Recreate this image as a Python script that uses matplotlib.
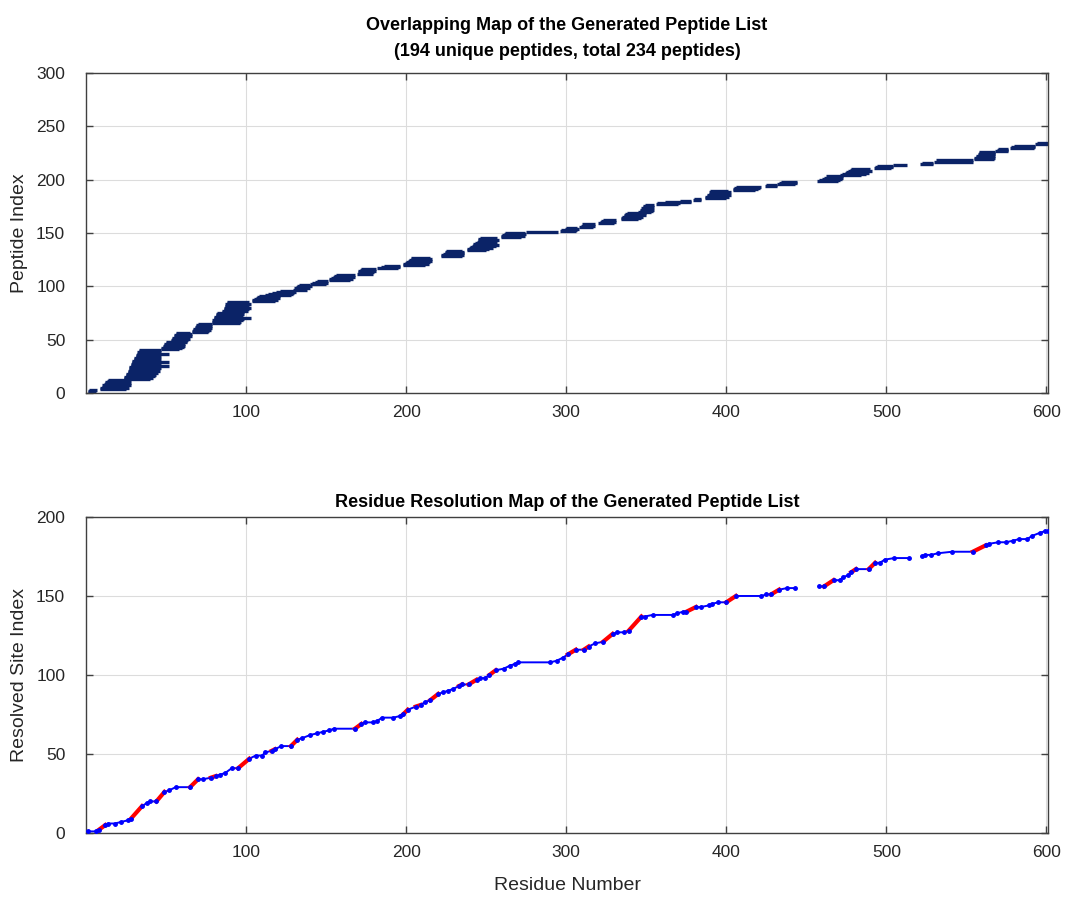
import numpy as np
import matplotlib
matplotlib.use("Agg")
import matplotlib.pyplot as plt

plt.rcParams['font.family'] = ['Liberation Sans', 'DejaVu Sans']

# peptide start / end residues (sorted by start, index = position in list)
pep_start = [1, 1, 2,
             9, 9, 10, 10, 11, 12, 12, 13, 14,
             24, 24, 24, 25, 25, 25, 26, 26, 26, 27, 27, 27, 28, 28, 28, 29, 29, 29,
             30, 30, 30, 31, 31, 31, 32, 32, 33, 33,
             47, 47, 48, 48, 49, 49, 50, 50,
             53, 53, 54, 54, 55, 55, 56, 56,
             66, 66, 67, 67, 68, 68, 69, 69, 70,
             79, 79, 79, 80, 80, 80, 81, 81, 81, 82,
             85, 85, 86, 86, 86, 87, 87, 87, 88, 88,
             104, 104, 105, 106, 107, 108,
             112, 114, 116, 119, 121,
             129, 130, 131, 132, 133,
             140, 141, 143, 144,
             152, 152, 153, 154, 155, 156,
             169, 170, 170, 171, 172,
             182, 184, 186,
             198, 198, 199, 200, 201, 202, 203, 203,
             222, 222, 223, 224, 224, 225,
             238, 238, 239, 240, 241, 242, 242, 243, 244, 245, 245, 246,
             259, 259, 260, 261, 262,
             275,
             296, 297, 299, 300,
             308, 309, 310,
             320, 321, 322, 323,
             334, 334, 335, 336, 336, 337, 338,
             345, 346, 346, 347, 348, 348, 349,
             356, 357, 362, 371,
             379, 380,
             387, 387, 388, 388, 389, 389, 390,
             404, 404, 405, 406,
             424, 425,
             432, 433, 434,
             457, 458, 460, 461, 462,
             471, 472, 474, 475, 476, 477, 478,
             492, 493, 494,
             504,
             521, 522,
             530, 531,
             555, 555, 556, 556, 557, 557, 558, 558,
             568, 569, 570,
             577, 578, 580,
             593, 594]

pep_end = [5, 6, 7,
           25, 27, 26, 28, 27, 28, 25, 27, 28,
           40, 42, 41, 43, 44, 42, 45, 44, 46, 45, 47, 46, 52, 45, 46, 47, 52, 44,
           46, 47, 45, 46, 47, 46, 52, 47, 46, 47,
           58, 60, 61, 62, 60, 62, 61, 63,
           63, 64, 65, 64, 66, 65, 66, 65,
           76, 77, 78, 77, 79, 78, 79, 78, 79,
           96, 97, 98, 99, 103, 97, 98, 97, 99, 98,
           99, 101, 100, 102, 103, 101, 102, 103, 101, 102,
           118, 120, 119, 121, 120, 121,
           128, 129, 130, 131, 130,
           138, 140, 139, 141, 140,
           150, 151, 150, 151,
           165, 167, 166, 168, 167, 168,
           179, 180, 181, 180, 181,
           195, 196, 196,
           212, 214, 213, 215, 216, 214, 216, 215,
           235, 236, 235, 236, 236, 235,
           250, 252, 254, 253, 256, 258, 255, 257, 256, 258, 254, 257,
           272, 274, 273, 275, 274,
           295,
           306, 307, 308, 307,
           317, 318, 318,
           330, 331, 330, 331,
           345, 347, 348, 346, 350, 349, 350,
           353, 354, 355, 354, 355, 353, 355,
           370, 371, 378, 378,
           384, 384,
           400, 402, 401, 403, 402, 403, 401,
           418, 420, 421, 422,
           432, 432,
           443, 444, 444,
           470, 471, 472, 473, 473,
           484, 487, 489, 486, 491, 488, 490,
           503, 504, 504,
           513,
           529, 529,
           554, 554,
           567, 568, 567, 568, 567, 568, 568, 568,
           576, 576, 576,
           592, 593, 593,
           601, 601]

# resolved site map (residue number, resolved site index); None = gap
site_res = [1, 6, 8, 12, 14, 18, 22, 26, 28, 35, 38, 40, 44, 49, 52, 56, 65, 70, 73, 78,
            81, 84, 87, 91, 95, 102, 106, 110, 112, 116, 118, 122, 128, 132, 135, 140, 144,
            148, 152, 155, 168, 172, 174, 179, 182, 185, 192, 196, 198, 201, 206, 209, 212,
            215, 220, 223, 226, 229, 233, 235, 239, 244, 246, 249, 252, 256, 261, 265, 268,
            270, 290, 294, 298, 301, 306, 311, 314, 318, 323, 329, 332, 336, 339, 347, 349,
            354, 367, 369, 373, 375, 381, 384, 389, 391, 395, 400, 406, 422, 425, 428, 433,
            438, 443, None, 458, 461, 467, 471, 473, 476, 478, 481, 489, 493, 496, 499, 505,
            514, None, 522, 524, 528, 532, 541, 554, 562, 564, 570, 575, 579, 583, 588, 591,
            596, 599, 601]
site_idx = [1, 1, 2, 5, 6, 6, 7, 8, 9, 17, 19, 20, 20, 26, 27, 29, 29, 34, 34, 35,
            36, 37, 38, 41, 41, 47, 49, 49, 51, 52, 53, 55, 55, 59, 60, 62, 63,
            64, 65, 66, 66, 69, 70, 70, 71, 73, 73, 74, 75, 78, 80, 81, 83,
            84, 88, 89, 90, 91, 93, 94, 94, 97, 98, 98, 100, 103, 104, 106, 107,
            108, 108, 109, 111, 113, 116, 116, 118, 120, 121, 126, 127, 127, 128, 137, 137,
            138, 138, 139, 140, 140, 143, 143, 144, 145, 146, 146, 150, 150, 151, 151, 154,
            155, 155, None, 156, 156, 160, 160, 162, 163, 165, 167, 167, 171, 171, 173, 174,
            174, None, 175, 176, 176, 177, 178, 178, 182, 183, 184, 184, 185, 186, 186, 188,
            190, 191, 191]

# single-residue resolved stretches (start residue, end residue)
red_from = [8, 28, 44, 65, 78, 95, 116, 128, 168, 198, 206, 215, 233, 239, 252, 301, 311,
            323, 339, 375, 400, 428, 461, 478, 489, 554]
red_to = [12, 35, 49, 70, 81, 102, 118, 132, 172, 201, 209, 220, 235, 244, 256, 306, 314,
          329, 347, 381, 406, 433, 467, 481, 493, 562]

navy = '#0b2367'
txt = '#262626'

fig = plt.figure(figsize=(10.66, 8.98), dpi=100)
ax1 = fig.add_axes([0.0807, 0.5624, 0.9024, 0.3563])
ax2 = fig.add_axes([0.0807, 0.0724, 0.9024, 0.3519])

for i in range(len(pep_start)):
    ax1.plot([pep_start[i], pep_end[i]], [i + 1, i + 1], color=navy, lw=2.4,
             solid_capstyle='butt')

x = np.array([np.nan if v is None else v for v in site_res], dtype=float)
y = np.array([np.nan if v is None else v for v in site_idx], dtype=float)
ax2.plot(x, y, '-', color='blue', lw=1.4, zorder=2)
for a, b in zip(red_from, red_to):
    i0 = site_res.index(a)
    i1 = site_res.index(b)
    ax2.plot(x[i0:i1 + 1], y[i0:i1 + 1], '-', color='red', lw=3, zorder=3)
ax2.plot(x, y, '.', color='blue', ms=5, zorder=4)

ax1.set_ylim(0, 300)
ax1.set_yticks(range(0, 301, 50))
ax2.set_ylim(0, 200)
ax2.set_yticks(range(0, 201, 50))

for ax in (ax1, ax2):
    ax.set_xlim(0, 601)
    ax.set_xticks(range(100, 601, 100))
    ax.grid(True, color='#dcdcdc', lw=0.8)
    ax.set_axisbelow(True)
    ax.tick_params(direction='in', top=True, right=True, length=5, width=1,
                   colors='#404040', labelcolor=txt, labelsize=12.5)
    ax.tick_params(axis='y', pad=15)
    ax.tick_params(axis='x', pad=9)
    for s in ax.spines.values():
        s.set_color('#404040')
        s.set_linewidth(1)

ax1.set_title('Overlapping Map of the Generated Peptide List\n'
              '(194 unique peptides, total 234 peptides)',
              fontsize=13, fontweight='bold', color='black', pad=12, linespacing=1.75)
ax1.set_ylabel('Peptide Index', fontsize=14, color=txt, labelpad=6)
ax2.set_title('Residue Resolution Map of the Generated Peptide List',
              fontsize=13, fontweight='bold', color='black', pad=7)
ax2.set_ylabel('Resolved Site Index', fontsize=14, color=txt, labelpad=6)
ax2.set_xlabel('Residue Number', fontsize=14, color=txt, labelpad=12)

fig.savefig('out.png', dpi=100)
